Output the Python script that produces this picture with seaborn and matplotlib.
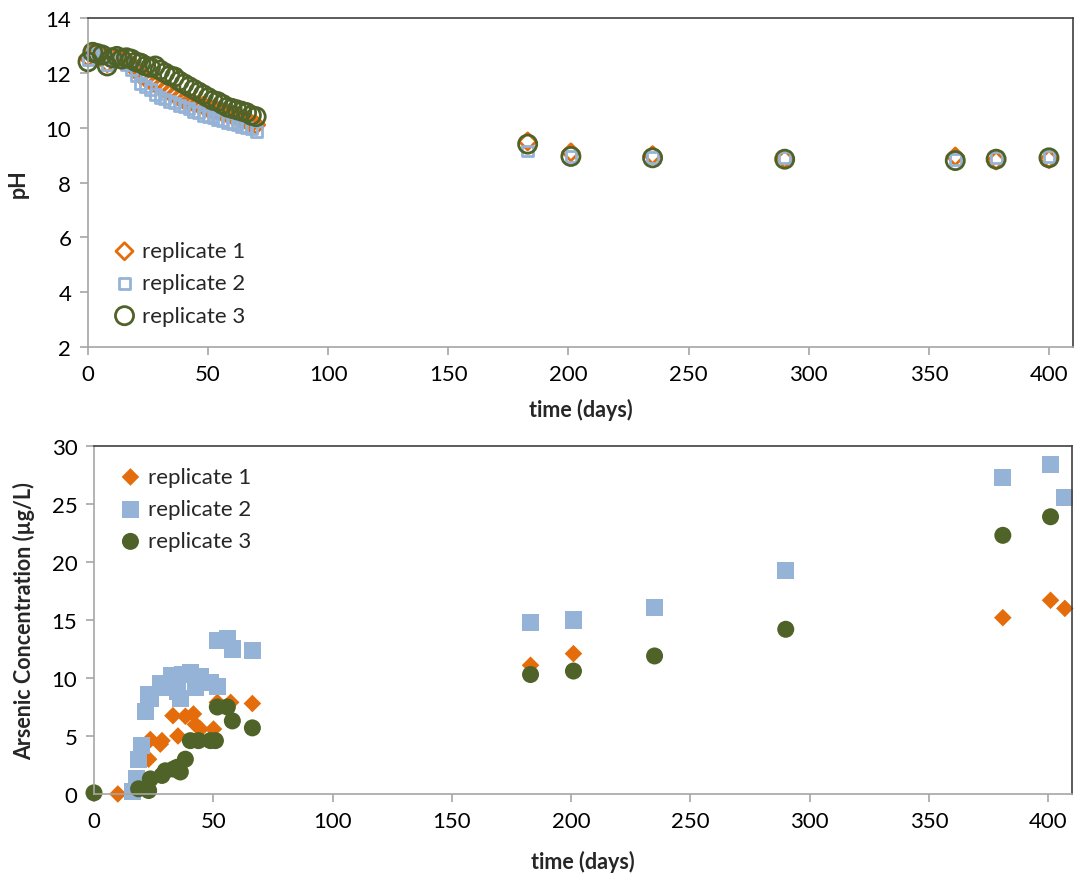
import numpy as np
import pandas as pd
import matplotlib
matplotlib.use("Agg")
import matplotlib.pyplot as plt
import seaborn as sns

# pH data: dense sampling over first 70 days, then sparse
ph_days = [0, 2, 4, 6, 8, 10, 12, 14, 16, 18, 20, 22, 24, 26, 28, 30, 32, 34, 36, 38,
           40, 42, 44, 46, 48, 50, 52, 54, 56, 58, 60, 62, 64, 66, 68, 70,
           183, 201, 235, 290, 361, 378, 400]
ph_rep1 = [12.55, 12.75, 12.7, 12.6, 12.35, 12.55, 12.5, 12.45, 12.4, 12.3, 12.1, 11.9,
           11.8, 11.7, 11.6, 11.5, 11.4, 11.3, 11.2, 11.1, 11.0, 10.95, 10.9, 10.85,
           10.8, 10.7, 10.65, 10.6, 10.55, 10.5, 10.45, 10.4, 10.3, 10.25, 10.15, 10.1,
           9.5, 9.1, 9.0, 8.85, 8.95, 8.8, 8.85]
ph_rep2 = [12.5, 12.7, 12.6, 12.55, 12.3, 12.5, 12.45, 12.4, 12.3, 12.1, 11.9, 11.6,
           11.5, 11.4, 11.2, 11.1, 11.05, 10.95, 10.9, 10.8, 10.75, 10.7, 10.6, 10.55,
           10.45, 10.4, 10.35, 10.3, 10.25, 10.2, 10.15, 10.1, 10.05, 10.0, 9.95, 9.85,
           9.15, 8.95, 8.9, 8.9, 8.85, 8.9, 8.95]
ph_rep3 = [12.4, 12.75, 12.7, 12.65, 12.25, 12.55, 12.6, 12.5, 12.55, 12.5, 12.4, 12.35,
           12.25, 12.2, 12.25, 12.1, 12.0, 11.9, 11.85, 11.7, 11.6, 11.5, 11.4, 11.3,
           11.2, 11.1, 11.0, 10.95, 10.85, 10.75, 10.7, 10.65, 10.6, 10.55, 10.45, 10.4,
           9.4, 8.95, 8.9, 8.85, 8.8, 8.85, 8.9]

# arsenic data
as_days_1 = [10, 19.4, 22.9, 23.6, 27.8, 28.5, 33.1, 35.2, 38.3, 41.7, 42.5, 44.6, 50.1,
             51.7, 57.3, 66.4, 183, 201, 381, 401, 407]
as_rep1 = [0.0, 1.3, 3.0, 4.7, 4.3, 4.6, 6.75, 5.0, 6.7, 6.9, 6.0, 5.6, 5.6,
           7.9, 7.9, 7.8, 11.1, 12.1, 15.2, 16.7, 16.0]
as_days_2 = [16.3, 18, 18.7, 20.1, 21.5, 22.9, 23.6, 27.8, 29.9, 32.7, 34.8, 36.2, 37,
             40.4, 42.5, 44.6, 46.7, 48.8, 51.7, 51.7, 55.9, 58, 66.4,
             183, 201, 235, 290, 381, 401, 407]
as_rep2 = [0.2, 1.3, 3.0, 4.2, 7.1, 8.6, 8.2, 9.5, 9.2, 10.2, 8.8, 8.2, 10.3,
           10.5, 9.2, 10.1, 9.65, 9.65, 9.3, 13.2, 13.4, 12.5, 12.35,
           14.8, 15.0, 16.1, 19.3, 27.3, 28.4, 25.6]
as_days_3 = [0, 18.7, 22.9, 23.6, 28.5, 29.9, 33.3, 34.8, 36.2, 38.3, 40.4, 43.8, 48.8,
             50.9, 51.7, 55.9, 58, 66.4, 183, 201, 235, 290, 381, 401]
as_rep3 = [0.1, 0.45, 0.3, 1.3, 1.6, 2.0, 2.15, 2.3, 1.9, 3.0, 4.6, 4.6, 4.6,
           4.6, 7.5, 7.5, 6.3, 5.7, 10.3, 10.6, 11.9, 14.2, 22.3, 23.9]

labels = ["replicate 1", "replicate 2", "replicate 3"]
colors = ["#E46C0A", "#95B3D7", "#4F6228"]

sns.set_style("white")
plt.rcParams['font.family'] = ['Lato', 'DejaVu Sans']

fig = plt.figure(figsize=(10.74, 8.78), dpi=100)
ax1 = fig.add_axes([88 / 1074, 1 - 348 / 878, (1073 - 88) / 1074, (348 - 19) / 878])
ax2 = fig.add_axes([94 / 1074, 1 - 795 / 878, (1072 - 94) / 1074, (795 - 447) / 878])

# top: pH, open markers
ph_df = pd.DataFrame({"day": ph_days * 3,
                      "pH": ph_rep1 + ph_rep2 + ph_rep3,
                      "rep": sum([[l] * len(ph_days) for l in labels], [])})
ph_style = {"replicate 1": ("D", 75), "replicate 2": ("s", 60), "replicate 3": ("o", 170)}
for lab, col in zip(labels, colors):
    sub = ph_df[ph_df["rep"] == lab]
    m, s = ph_style[lab]
    sns.scatterplot(data=sub, x="day", y="pH", ax=ax1, marker=m, s=s,
                    facecolor="none", edgecolor=col, linewidth=2, label=lab, clip_on=False)

# bottom: arsenic, filled markers
as_df = pd.concat([
    pd.DataFrame({"day": as_days_1, "conc": as_rep1, "rep": labels[0]}),
    pd.DataFrame({"day": as_days_2, "conc": as_rep2, "rep": labels[1]}),
    pd.DataFrame({"day": as_days_3, "conc": as_rep3, "rep": labels[2]}),
])
as_style = {"replicate 1": ("D", 80), "replicate 2": ("s", 150), "replicate 3": ("o", 150)}
for lab, col in zip(labels, colors):
    sub = as_df[as_df["rep"] == lab]
    m, s = as_style[lab]
    sns.scatterplot(data=sub, x="day", y="conc", ax=ax2, marker=m, s=s,
                    color=col, edgecolor="none", label=lab, clip_on=False)

for ax in (ax1, ax2):
    ax.set_xlim(0, 410)
    ax.set_xticks(np.arange(0, 401, 50))
    for side in ("left", "bottom"):
        ax.spines[side].set_color("#A6A6A6")
        ax.spines[side].set_linewidth(1.2)
    for side in ("top", "right"):
        ax.spines[side].set_color("#404040")
        ax.spines[side].set_linewidth(1.2)
    ax.tick_params(axis="both", direction="out", length=6, width=1.2, color="#A6A6A6",
                   labelsize=16, labelcolor="black", bottom=True, left=True, pad=6)

ax1.set_xlabel("time (days)", fontsize=15.5, fontweight="bold", labelpad=10)
ax2.set_xlabel("time (days)", fontsize=15.5, fontweight="bold", labelpad=14)

ax1.set_ylim(2, 14)
ax1.set_yticks(np.arange(2, 15, 2))
ax1.set_ylabel("pH", fontsize=15.5, fontweight="bold", labelpad=12)
ax1.legend(loc="lower left", bbox_to_anchor=(0.01, 0.018), frameon=False, fontsize=16,
           handlelength=1.0, handletextpad=0.3, labelspacing=0.55, borderaxespad=0.3)

ax2.set_ylim(0, 30)
ax2.set_yticks(np.arange(0, 31, 5))
ax2.set_ylabel("Arsenic Concentration (µg/L)", fontsize=15.5, fontweight="bold", labelpad=12)
ax2.legend(loc="upper left", bbox_to_anchor=(0.01, 0.985), frameon=False, fontsize=16,
           handlelength=1.0, handletextpad=0.3, labelspacing=0.55, borderaxespad=0.3)

fig.savefig("out.png", dpi=100)
